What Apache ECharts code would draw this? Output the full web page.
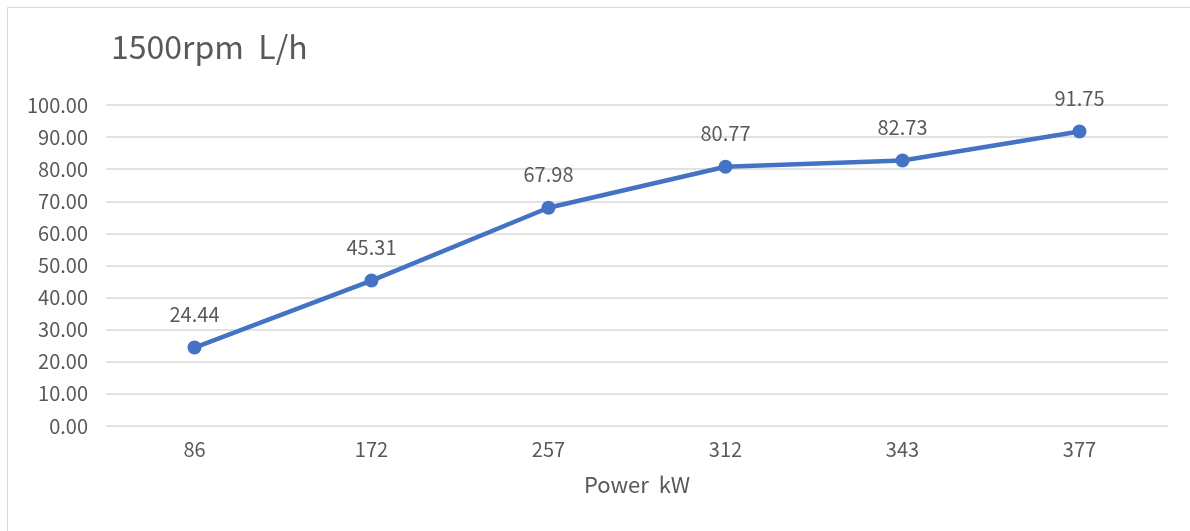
<!DOCTYPE html>
<html>
<head>
<meta charset="utf-8">
<script src="https://cdn.jsdelivr.net/npm/echarts@6/dist/echarts.min.js"></script>
<style>
  html, body { margin: 0; padding: 0; background: #fff; }
  #main { width: 1190px; height: 531px; }
</style>
</head>
<body>
<div id="main"></div>
<script>
  // 数据
  var categories = ['86', '172', '257', '312', '343', '377'];
  var fuelValues = [24.44, 45.31, 67.98, 80.77, 82.73, 91.75];

  var textFont = '"Noto Sans CJK SC", "Noto Sans", sans-serif';
  var textColor = '#595959';

  var myChart = echarts.init(document.getElementById('main'));

  var option = {
    backgroundColor: '#fff',
    animation: false,
    title: {
      text: '1500rpm  L/h',
      left: 106,
      top: 26,
      textStyle: {
        fontFamily: textFont,
        fontSize: 32,
        fontWeight: 'normal',
        color: textColor
      }
    },
    graphic: [
      {
        type: 'rect',
        shape: { x: 7.5, y: 7.5, width: 1200, height: 600 },
        style: { fill: 'none', stroke: '#d9d9d9', lineWidth: 1 },
        silent: true
      }
    ],
    grid: {
      left: 106,
      right: 22,
      top: 105,
      bottom: 105
    },
    xAxis: {
      type: 'category',
      data: categories,
      boundaryGap: true,
      name: 'Power  kW',
      nameLocation: 'middle',
      nameGap: 48,
      nameTextStyle: {
        fontFamily: textFont,
        fontSize: 22,
        color: textColor
      },
      axisLine: { show: false },
      axisTick: { show: false },
      axisLabel: {
        margin: 13,
        fontFamily: textFont,
        fontSize: 20,
        color: textColor
      }
    },
    yAxis: {
      type: 'value',
      min: 0,
      max: 100,
      interval: 10,
      axisLine: { show: false },
      axisTick: { show: false },
      axisLabel: {
        margin: 18,
        fontFamily: textFont,
        fontSize: 20,
        color: textColor,
        formatter: function (v) { return v.toFixed(2); }
      },
      splitLine: {
        lineStyle: { color: '#d9d9d9', width: 1.5 }
      }
    },
    series: [
      {
        type: 'line',
        data: fuelValues,
        symbol: 'circle',
        symbolSize: 14,
        lineStyle: { color: '#4472C4', width: 4.5 },
        itemStyle: { color: '#4472C4' },
        label: {
          show: true,
          position: 'top',
          distance: 16,
          fontFamily: textFont,
          fontSize: 20,
          color: textColor,
          formatter: function (p) { return p.value.toFixed(2); }
        }
      }
    ]
  };

  myChart.setOption(option);
</script>
</body>
</html>
